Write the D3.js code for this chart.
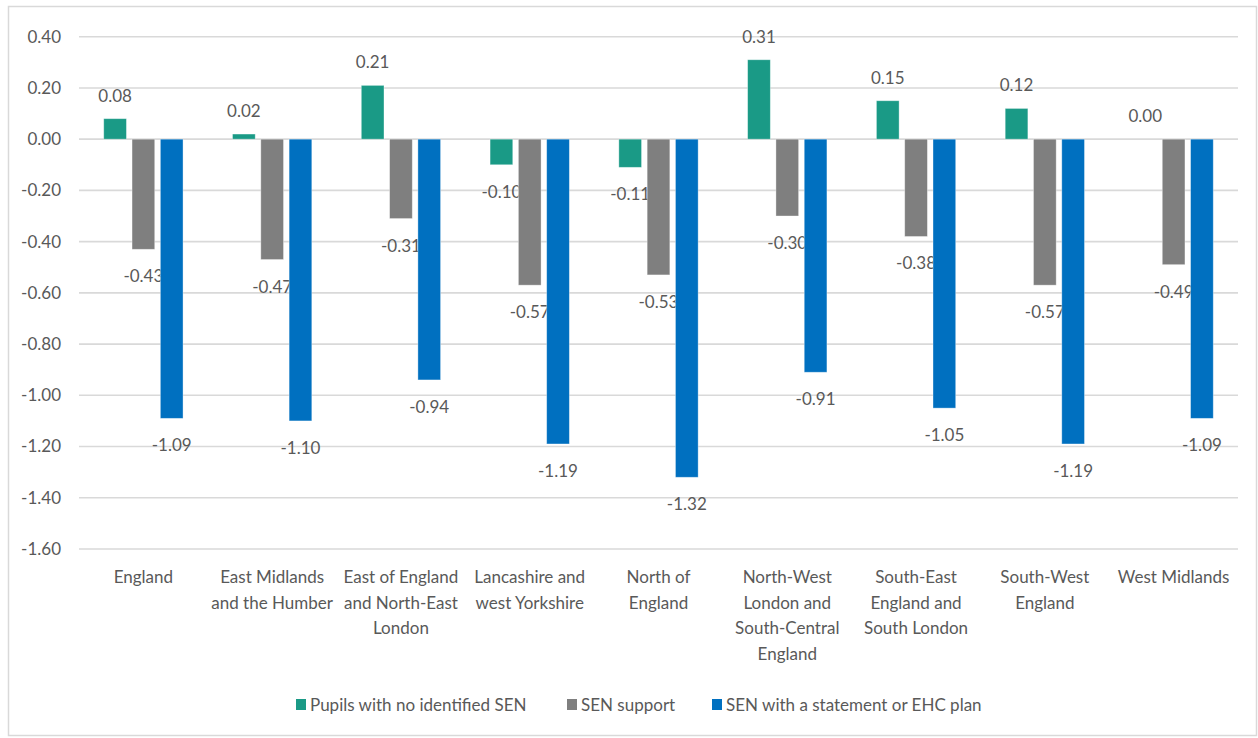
<!DOCTYPE html>
<html>
<head>
<meta charset="utf-8">
<script src="https://cdn.jsdelivr.net/npm/d3@7"></script>
<style>
  html, body { margin: 0; padding: 0; background: #fff; }
  svg { display: block; font-family: Lato, "Open Sans", sans-serif; }
</style>
</head>
<body>
<svg id="chart" width="1258" height="738"></svg>
<script>
// Regions (tick labels, one entry per wrapped line)
const categories = [
  ["England"],
  ["East Midlands", "and the Humber"],
  ["East of England", "and North-East", "London"],
  ["Lancashire and", "west Yorkshire"],
  ["North of", "England"],
  ["North-West", "London and", "South-Central", "England"],
  ["South-East", "England and", "South London"],
  ["South-West", "England"],
  ["West Midlands"]
];

// Series values
const noSEN      = [0.08, 0.02, 0.21, -0.10, -0.11, 0.31, 0.15, 0.12, 0.00];
const senSupport = [-0.43, -0.47, -0.31, -0.57, -0.53, -0.30, -0.38, -0.57, -0.49];
const ehcPlan    = [-1.09, -1.10, -0.94, -1.19, -1.32, -0.91, -1.05, -1.19, -1.09];

const seriesNames = ["Pupils with no identified SEN", "SEN support", "SEN with a statement or EHC plan"];
const yTicks = [0.4, 0.2, 0, -0.2, -0.4, -0.6, -0.8, -1.0, -1.2, -1.4, -1.6];

// Styling and layout
const colors = ["#1a9a86", "#7f7f7f", "#0070c0"];
const textColor = "#595959";
const gridColor = "#d9d9d9";
const legendX = [296, 567, 712];

// two decimals with a plain hyphen for negatives
const fmt = d => d3.format(".2f")(d).replace("\u2212", "-");

const svg = d3.select("#chart");
const keys = categories.map(c => c.join(" "));
const series = [noSEN, senSupport, ehcPlan];

const x = d3.scaleBand().domain(keys).range([79, 1238]);
const y = d3.scaleLinear().domain([-1.6, 0.4]).range([549, 36.7]);
const barStep = 28.3, barW = 22.7;

// chart frame
svg.append("rect")
  .attr("x", 8.5).attr("y", 6.5).attr("width", 1248).attr("height", 729)
  .attr("fill", "#fff").attr("stroke", gridColor).attr("stroke-width", 1.5);

// gridlines
svg.append("g").selectAll("line").data(yTicks).join("line")
  .attr("x1", 79).attr("x2", 1238)
  .attr("y1", d => y(d)).attr("y2", d => y(d))
  .attr("stroke", gridColor).attr("stroke-width", 1.6);

// y-axis labels
const yAxis = d3.axisLeft(y).tickValues(yTicks).tickFormat(fmt).tickSize(0).tickPadding(0);
const yg = svg.append("g").attr("transform", "translate(61,0)").call(yAxis);
yg.select(".domain").remove();
yg.selectAll("text")
  .attr("fill", textColor).style("font-size", "17px").style("font-family", "Lato, sans-serif");

// category labels
const catG = svg.append("g");
categories.forEach((lines, i) => {
  const cx = x(keys[i]) + x.bandwidth() / 2;
  const t = catG.append("text")
    .attr("text-anchor", "middle").attr("fill", textColor)
    .style("font-size", "17px");
  lines.forEach((ln, j) => {
    t.append("tspan").attr("x", cx).attr("y", 583 + j * 25.5).text(ln);
  });
});

// data labels (beneath the bars so neighbouring bars overlap them)
const labelG = svg.append("g");
series.forEach((vals, s) => {
  labelG.selectAll(null).data(vals).join("text")
    .attr("x", (d, i) => x(keys[i]) + x.bandwidth() / 2 + (s - 1) * barStep)
    .attr("y", d => d >= 0 ? y(d) - 23 : y(d) + 27)
    .attr("dy", "0.35em")
    .attr("text-anchor", "middle").attr("fill", textColor)
    .style("font-size", "17px")
    .text(fmt);
});

// bars
const barG = svg.append("g");
series.forEach((vals, s) => {
  barG.selectAll(null).data(vals).join("rect")
    .attr("x", (d, i) => x(keys[i]) + x.bandwidth() / 2 + (s - 1) * barStep - barW / 2)
    .attr("y", d => Math.min(y(d), y(0)))
    .attr("width", barW)
    .attr("height", d => Math.abs(y(d) - y(0)))
    .attr("fill", colors[s])
    .attr("stroke", "rgba(255,255,255,0.45)").attr("stroke-width", 0.8);
});

// legend
const lg = svg.append("g");
seriesNames.forEach((name, s) => {
  lg.append("rect").attr("x", legendX[s]).attr("y", 699).attr("width", 10).attr("height", 11)
    .attr("fill", colors[s]);
  lg.append("text").attr("x", legendX[s] + 14).attr("y", 705).attr("dy", "0.35em")
    .attr("fill", textColor).style("font-size", "17px")
    .text(name);
});
</script>
</body>
</html>
